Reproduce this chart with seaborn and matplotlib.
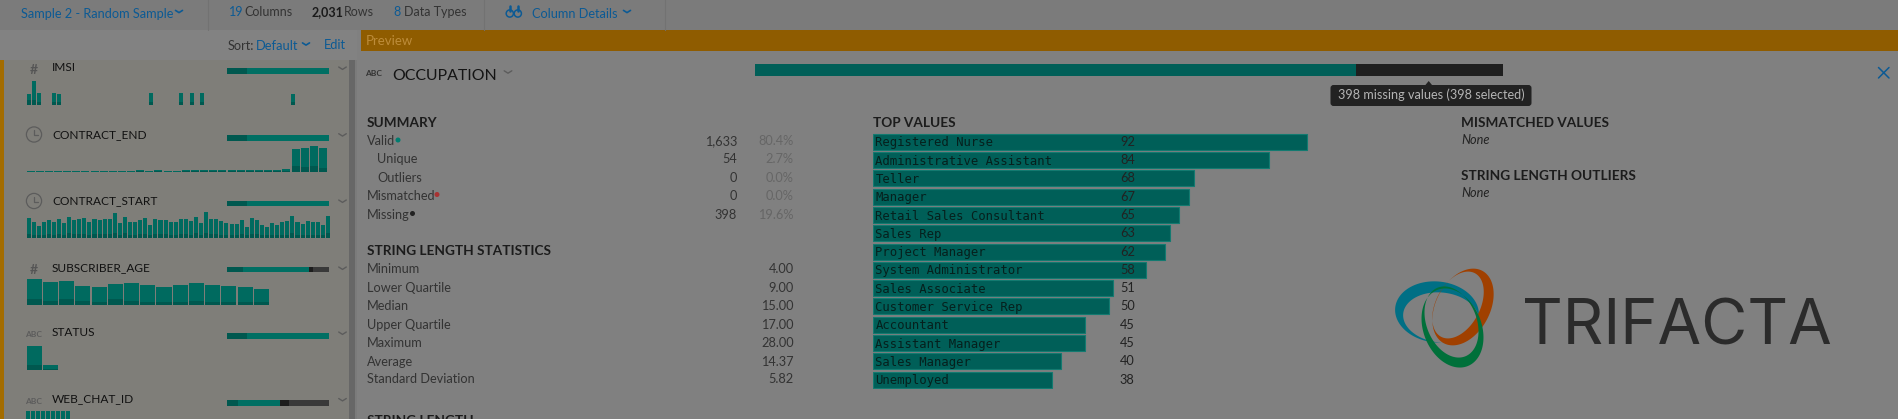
import numpy as np
import pandas as pd
import matplotlib
matplotlib.use("Agg")
import matplotlib.pyplot as plt
from matplotlib.patches import Rectangle, FancyBboxPatch, Polygon, Circle
import seaborn as sns

# ---------- data ----------
top_names = ["Registered Nurse", "Administrative Assistant", "Teller", "Manager",
             "Retail Sales Consultant", "Sales Rep", "Project Manager",
             "System Administrator", "Sales Associate", "Customer Service Rep",
             "Accountant", "Assistant Manager", "Sales Manager", "Unemployed"]
top_counts = [92, 84, 68, 67, 65, 63, 62, 58, 51, 50, 45, 45, 40, 38]
overview_counts = [1633, 398]

imsi = [32, 73, 35, 0, 0, 35, 32, 1, 1, 1, 1, 1, 1, 1, 1, 1, 1, 1, 1, 1, 1, 1, 1, 1, 35, 1, 1, 1, 1, 1,
        35, 1, 35, 1, 35, 1, 1, 1, 1, 1, 1, 1, 1, 1, 1, 1, 1, 1, 1, 1, 1, 1, 32]
imsi_sel = [14, 16, 10, 0, 0, 10, 10, 0, 0, 0, 0, 0, 0, 0, 0, 0, 0, 0, 0, 0, 0, 0, 0, 0, 10, 0, 0, 0, 0, 0,
            10, 0, 10, 0, 10, 0, 0, 0, 0, 0, 0, 0, 0, 0, 0, 0, 0, 0, 0, 0, 0, 0, 10]
contract_end = [1, 1, 1, 1, 1, 1, 1, 1, 1, 1, 1, 1, 5, 1, 5, 1, 1, 5, 5, 5, 5, 5, 5, 5, 5, 5, 5, 5, 8, 68, 71, 77, 71]
contract_end_sel = [0, 0, 0, 0, 0, 0, 0, 0, 0, 0, 0, 0, 2, 0, 2, 0, 0, 2, 2, 2, 2, 2, 2, 2, 2, 2, 2, 2, 3, 16, 14, 17, 12]
contract_start = [61, 49, 36, 48, 54, 49, 58, 46, 64, 55, 58, 60, 48, 58, 55, 58, 56, 74, 46, 64,
                  49, 49, 54, 61, 39, 58, 55, 55, 49, 49, 58, 58, 52, 64, 46, 77, 58, 58, 52, 46,
                  43, 43, 54, 33, 61, 55, 39, 33, 46, 39, 49, 52, 67, 49, 43, 52, 49, 49, 39, 67]
contract_start_sel = [12, 10, 8, 10, 12, 10, 12, 10, 14, 12, 12, 12, 10, 12, 12, 12, 12, 16, 10, 14,
                      10, 10, 12, 12, 8, 12, 12, 12, 10, 10, 12, 12, 10, 14, 10, 16, 12, 12, 10, 10,
                      8, 8, 12, 8, 12, 12, 8, 8, 10, 8, 10, 10, 14, 10, 8, 10, 10, 10, 8, 14]
subscriber_age = [77, 68, 71, 56, 52, 62, 65, 59, 52, 59, 65, 59, 56, 52, 46]
subscriber_age_sel = [16, 12, 16, 12, 8, 16, 12, 8, 8, 8, 12, 8, 8, 8, 8]
status = [73, 14]
status_sel = [14, 4]
web_chat = [60, 60, 60, 60, 60, 60, 60, 60, 60]
web_chat_sel = [8, 8, 8, 8, 8, 8, 8, 8, 8]

quality_full = [20, 80]
quality_age = [16, 64, 4, 16]
quality_web = [11, 41, 9, 39]

column_names = ["IMSI", "CONTRACT_END", "CONTRACT_START", "SUBSCRIBER_AGE", "STATUS", "WEB_CHAT_ID"]
summary_labels = ["Valid", "Unique", "Outliers", "Mismatched", "Missing"]
summary_counts = ["1,633", "54", "0", "0", "398"]
summary_pcts = ["80.4%", "2.7%", "0.0%", "0.0%", "19.6%"]
stat_labels = ["Minimum", "Lower Quartile", "Median", "Upper Quartile", "Maximum", "Average", "Standard Deviation"]
stat_values = ["4.00", "9.00", "15.00", "17.00", "28.00", "14.37", "5.82"]

# ---------- style ----------
W, H = 1899, 419
sns.set_theme(style="white")
plt.rcParams["font.family"] = ["Lato", "DejaVu Sans"]
plt.rcParams["axes.facecolor"] = "none"

BG = "#808080"
TEAL = "#006a5f"
TEAL_D = "#00584f"
BLUE = "#0c5a94"
INK = "#2b2b2b"
INK2 = "#333333"

fig = plt.figure(figsize=(W / 100, H / 100), dpi=100, facecolor=BG)
bg = fig.add_axes([0, 0, 1, 1])
bg.set_xlim(0, W)
bg.set_ylim(H, 0)
bg.set_axis_off()


def rect(x0, y0, x1, y1, c, **k):
    bg.add_patch(Rectangle((x0, y0), x1 - x0, y1 - y0, fc=c, ec="none", **k))


def txt(x, y, s, size=9.2, c=INK2, ha="left", weight="normal", style="normal", **k):
    bg.text(x, y + 0.5, s, fontsize=size, color=c, ha=ha, va="center", weight=weight, style=style, **k)


def chevron(x, y, c="#555555", w=3.5, h=2.2, lw=1.0):
    bg.plot([x - w, x, x + w], [y - h / 2, y + h / 2, y - h / 2], color=c, lw=lw, solid_capstyle="round")


def px_axes(x0, y0, x1, y1):
    a = fig.add_axes([x0 / W, 1 - y1 / H, (x1 - x0) / W, (y1 - y0) / H])
    a.set_axis_off()
    return a


def spark(values, selected, x0, x1, base, gap, top=82):
    a = px_axes(x0, base - top / 3, x1, base)
    n = len(values)
    d = pd.DataFrame({"bin": range(n), "all": values, "sel": selected})
    sns.barplot(d, x="bin", y="all", color=TEAL, saturation=1, width=1, gap=gap, ax=a, linewidth=0)
    sns.barplot(d, x="bin", y="sel", color=TEAL_D, saturation=1, width=1, gap=gap, ax=a, linewidth=0)
    a.set_xlim(-0.5, n - 0.5)
    a.set_ylim(0, top)
    a.set_axis_off()


def stacked(segments, colors, x0, y0, x1, y1):
    a = px_axes(x0, y0, x1, y1)
    cum = np.cumsum(segments)
    for v, c in list(zip(cum, colors))[::-1]:
        sns.barplot(x=[v], y=[0], orient="h", color=c, saturation=1, gap=0, width=1,
                    ax=a, linewidth=0)
    a.set_xlim(0, cum[-1])
    a.set_ylim(0.5, -0.5)
    a.set_axis_off()


def crescent(cx, cy, a, b, rot, off, ia, ib, color):
    t = np.linspace(0, 2 * np.pi, 200)
    r = np.deg2rad(rot)

    def ring(cx, cy, a, b):
        x, y = a * np.cos(t), b * np.sin(t)
        return np.c_[cx + x * np.cos(r) - y * np.sin(r), cy + x * np.sin(r) + y * np.cos(r)]

    pts = np.vstack([ring(cx, cy, a, b), ring(cx + off[0], cy + off[1], ia, ib)[::-1]])
    bg.add_patch(Polygon(pts, closed=True, fc=color, ec="none"))


# ---------- page chrome ----------
rect(0, 0, W, 30, "#7b7b7b")
rect(0, 30, 357, 60, "#828282")
rect(0, 60, 349, H, "#7f7e79")
rect(0, 60, 4, H, "#a36c00")
rect(349, 60, 355, H, "#676767")
rect(355, 60, 357, H, "#7b7b7b")
rect(361.5, 30, W, 51, "#8f5c00")
for sx in (208.5, 484, 665):
    bg.plot([sx, sx], [0, 30], color="#727272", lw=0.8)

txt(20.7, 13, "Sample 2 - Random Sample", size=9.2, c=BLUE)
chevron(179, 11.5, BLUE, lw=1.2)
txt(229, 12, "19", c=BLUE, size=9)
txt(244.6, 12, "Columns", c=INK2, size=9)
txt(312, 12, "2,031", c="#1a1a1a", size=9, weight="bold")
txt(344, 12, "Rows", c=INK2, size=9)
txt(393, 12, "8", c=BLUE, size=9)
txt(404, 12, "Data Types", c=INK2, size=9)
for cx in (509.8, 517.8):
    bg.add_patch(Circle((cx, 13.5), 3.6, fc="none", ec=BLUE, lw=1.1))
    bg.plot([cx, cx], [6, 11], color=BLUE, lw=1.8)
txt(532, 13, "Column Details", size=9.2, c=BLUE)
chevron(627, 11.5, BLUE, lw=1.2)
txt(227.6, 45, "Sort:", c=INK2, size=9.2)
txt(255.4, 45, "Default", c=BLUE, size=9.3)
chevron(306, 44, BLUE, lw=1.2)
txt(324, 44.5, "Edit", c=BLUE, size=9.3)
txt(366, 40.5, "Preview", c="#bd8c3a", size=9.5)

# ---------- sidebar ----------
name_y = [67, 133.7, 200, 267, 332, 398.5]
for n, y in zip(column_names, name_y):
    txt(52, y, n, size=8.6, c="#111111")
    chevron(342.5, y + 1.2, "#5c5c5c", w=3.8, h=2.4)
for y in (68, 268):
    txt(34, y + 1, "#", ha="center", size=10, c="#555555", weight="bold")
for y in (134.5, 201):
    bg.add_patch(Circle((34, y), 7.6, fc="none", ec="#5c5c5c", lw=0.9))
    bg.plot([34, 34, 38], [y - 4, y + 0.7, y + 0.7], color="#5c5c5c", lw=0.9)
for y in (333, 400):
    txt(34, y + 1, "ABC", ha="center", size=6, c="#5c5c5c", weight="bold")

spark(imsi, imsi_sel, 26, 296, 105, 0.2)
spark(contract_end, contract_end_sel, 26, 327.5, 171.7, 0.12)
spark(contract_start, contract_start_sel, 26, 330.5, 238, 0.2)
spark(subscriber_age, subscriber_age_sel, 26, 269.5, 304.7, 0.07)
spark(status, status_sel, 26, 58.5, 370, 0.07)
spark(web_chat, web_chat_sel, 26, 71, 431, 0.2)

full_cols = [TEAL_D, "#006f63"]
age_cols = [TEAL_D, "#006f63", "#1d1d1d", "#393939"]
for y0, y1 in [(68.3, 74), (135, 141), (201.3, 206), (333.3, 339)]:
    stacked(quality_full, full_cols, 227, y0, 329, y1)
stacked(quality_age, age_cols, 227, 266.7, 329, 272.3)
stacked(quality_web, age_cols, 227, 400, 329, 405.7)

# ---------- occupation panel ----------
txt(374, 72.5, "ABC", ha="center", size=6, c="#333333", weight="bold")
txt(392, 75.3, "OCCUPATION", size=11.4, c="#141414")
chevron(508, 72, "#5c5c5c", w=3.8, h=2.4)
stacked(overview_counts, ["#005f58", "#1f1f1f"], 755.5, 64, 1502.7, 76.3)

bg.add_patch(FancyBboxPatch((1332.5, 87), 197, 17, boxstyle="round,pad=2,rounding_size=3", fc="#222222", ec="none"))
bg.add_patch(Polygon([[1425, 85.5], [1428.7, 81], [1432.4, 85.5]], fc="#222222", ec="none"))
txt(1431, 94.5, "398 missing values (398 selected)", ha="center", size=9.1, c="#b4b4b4")
bg.plot([1878.5, 1889], [67.5, 78], color=BLUE, lw=1.1)
bg.plot([1878.5, 1889], [78, 67.5], color=BLUE, lw=1.1)

HEAD = dict(size=9.8, c="#1c1c1c", weight="bold")
txt(367, 122.7, "SUMMARY", **HEAD)
sum_y = [140.7, 158.5, 177, 195, 214]
sum_x = [367, 377.5, 377.5, 367, 367]
for s, x, y, c, p in zip(summary_labels, sum_x, sum_y, summary_counts, summary_pcts):
    txt(x, y, s)
    txt(737, y, c, ha="right")
    txt(793.6, y, p, ha="right", c="#666666")
bg.add_patch(Circle((398, 140), 2.5, fc="#007d70", ec="none"))
bg.add_patch(Circle((437, 194.5), 2.5, fc="#a83232", ec="none"))
bg.add_patch(Circle((412.5, 213.5), 2.5, fc="#222222", ec="none"))

txt(367, 250.5, "STRING LENGTH STATISTICS", **HEAD)
stat_y = [268, 287, 305, 324, 342, 361, 378.5]
for s, v, y in zip(stat_labels, stat_values, stat_y):
    txt(367, y, s)
    txt(793.6, y, v, ha="right")
txt(367, 420, "STRING LENGTH", **HEAD)

txt(872.6, 122.7, "TOP VALUES", **HEAD)
txt(1461, 122.7, "MISMATCHED VALUES", **HEAD)
txt(1461, 139, "None", style="italic", size=9.2, c="#222222")
txt(1461, 175.7, "STRING LENGTH OUTLIERS", **HEAD)
txt(1461, 192, "None", style="italic", size=9.2, c="#222222")

# ---------- top values ----------
ax = px_axes(872.6, 132.55, 1344.6, 388.85)
df = pd.DataFrame({"name": top_names, "count": top_counts})
sns.barplot(df, x="count", y="name", orient="h", color="#005f58", saturation=1, width=1, gap=0.125,
            ax=ax, edgecolor="#137a70", linewidth=0.8)
ax.set_xlim(0, 100)
ax.set_ylim(len(top_names) - 0.5, -0.5)
ax.set_axis_off()
tr = ax.get_yaxis_transform()
for i, (n, c) in enumerate(zip(top_names, top_counts)):
    ax.text(0.006, i + 0.06, n, transform=tr, family="DejaVu Sans Mono", fontsize=8.8,
            color="#06201d", va="center", ha="left")
    ax.text(0.524, i, str(c), transform=tr, fontsize=9.2, color="#222222", va="center", ha="left")

# ---------- logo ----------
crescent(1437, 312, 42, 30.5, 6, (4, 5.5), 38, 25, "#006f85")
crescent(1463, 307, 41, 27, -62, (-5, -2), 36, 22, "#a04000")
crescent(1452.5, 328, 41, 29, 68, (-1, -6), 37, 25, "#00703a")
bg.text(1677, 328, "TRIFACTA", fontsize=45.5, color="#2b2b2b", family="Inter", ha="center", va="center")

fig.savefig("out.png", dpi=100, facecolor=BG)
